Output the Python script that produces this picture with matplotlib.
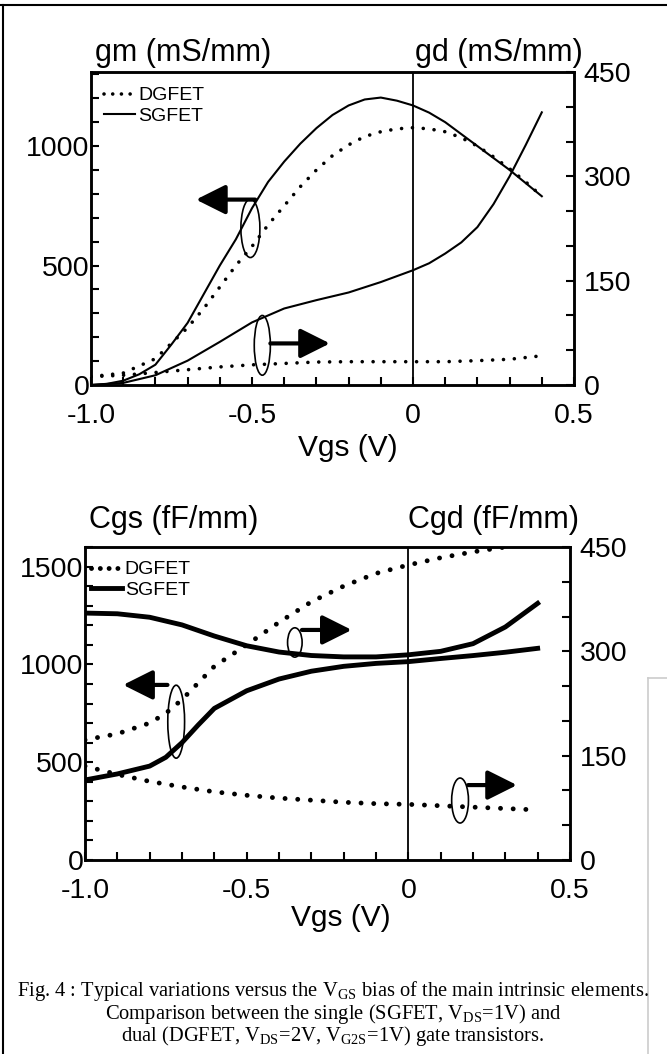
import matplotlib
matplotlib.use('Agg')
import matplotlib.pyplot as plt
from matplotlib.patches import Ellipse
from matplotlib.lines import Line2D
from matplotlib.ticker import MultipleLocator, FixedLocator

plt.rcParams['font.family'] = ['Liberation Sans', 'DejaVu Sans']
plt.rcParams['axes.unicode_minus'] = False
plt.rcParams['mathtext.fontset'] = 'custom'
plt.rcParams['mathtext.rm'] = 'Liberation Serif'

# ---- top chart: gm (left) and gd (right) ----
vgs_gm_dg = [-1.0, -0.9, -0.8, -0.75, -0.7, -0.65, -0.6, -0.55, -0.5, -0.45, -0.4, -0.35, -0.3, -0.25,
             -0.2, -0.15, -0.1, -0.05, 0.0, 0.05, 0.1, 0.15, 0.2, 0.25, 0.3, 0.35, 0.4]
gm_dg = [35, 50, 110, 175, 240, 320, 410, 500, 580, 670, 750, 830, 900, 960,
         1005, 1040, 1060, 1072, 1077, 1072, 1060, 1035, 1000, 955, 905, 850, 790]

vgs_gm_sg = [-1.0, -0.95, -0.9, -0.85, -0.8, -0.75, -0.7, -0.65, -0.6, -0.55, -0.5, -0.45, -0.4, -0.35,
             -0.3, -0.25, -0.2, -0.15, -0.1, -0.05, 0.0, 0.05, 0.1, 0.15, 0.2, 0.25, 0.3, 0.35, 0.4]
gm_sg = [0, 5, 18, 45, 85, 170, 260, 380, 500, 610, 740, 850, 935, 1010,
         1075, 1130, 1170, 1195, 1203, 1190, 1170, 1140, 1100, 1050, 1000, 950, 900, 845, 790]

vgs_gd_sg = [-1.0, -0.9, -0.8, -0.7, -0.6, -0.5, -0.4, -0.3, -0.2, -0.1, 0.0, 0.05, 0.1, 0.15,
             0.2, 0.25, 0.3, 0.35, 0.4]
gd_sg = [0, 3, 14, 35, 62, 90, 110, 122, 133, 148, 165, 175, 189, 205, 227, 260, 300, 345, 392]

vgs_gd_dg = [-1.0, -0.9, -0.8, -0.7, -0.6, -0.5, -0.4, -0.3, -0.2, -0.1, 0.0, 0.1, 0.2, 0.3, 0.4]
gd_dg = [12, 14, 18, 22, 26, 29, 31, 33, 33.5, 33.5, 33.5, 33.5, 35, 37, 42]

# ---- bottom chart: Cgs (left) and Cgd (right) ----
vgs_c = [-1.0, -0.9, -0.8, -0.75, -0.7, -0.65, -0.6, -0.5, -0.4, -0.3, -0.2, -0.1, 0.0, 0.1, 0.2, 0.3, 0.4]
cgs_dg = [614, 645, 700, 750, 820, 905, 990, 1100, 1215, 1320, 1400, 1465, 1508, 1545, 1575, 1600]
cgs_sg = [409, 440, 480, 525, 600, 690, 775, 865, 925, 965, 990, 1005, 1014, 1030, 1045, 1062, 1082]

vgs_cgd = [-1.0, -0.9, -0.8, -0.7, -0.6, -0.5, -0.4, -0.3, -0.2, -0.1, 0.0, 0.1, 0.2, 0.3, 0.4]
cgd_sg = [355, 354, 349, 338, 322, 308, 299, 294, 292, 292, 295, 300, 311, 335, 369]
cgd_dg = [135, 123, 113, 105, 98, 93, 89, 86, 83, 81, 80, 78, 76, 74, 72]

xticks_lab = ['-1.0', '-0.5', '0', '0.5']

W, H = 667, 1054
fig = plt.figure(figsize=(W / 100, H / 100), dpi=100)


def box(l, r, t, b):
    return [l / W, 1 - b / H, (r - l) / W, (b - t) / H]


def dotted(ax, x, y, lw, gap):
    ax.plot(x, y, color='k', lw=lw, dashes=(0.01, gap), dash_capstyle='round')


def setup(ax, ax2, ymax, ylabels):
    ax.set_xlim(-1.0, 0.5)
    ax.set_ylim(0, ymax)
    ax2.set_ylim(0, 450)
    ax.axvline(0, color='k', lw=1.3)
    ax.xaxis.set_major_locator(FixedLocator([-1.0, -0.5, 0, 0.5]))
    ax.set_xticklabels(xticks_lab)
    ax.xaxis.set_minor_locator(MultipleLocator(0.1))
    ax.yaxis.set_major_locator(FixedLocator(ylabels))
    ax.set_yticklabels([str(v) for v in ylabels])
    ax.yaxis.set_minor_locator(MultipleLocator(100))
    ax2.yaxis.set_major_locator(FixedLocator([0, 150, 300, 450]))
    ax2.yaxis.set_minor_locator(MultipleLocator(50))
    for a in (ax, ax2):
        for s in a.spines.values():
            s.set_linewidth(1.8)
        a.tick_params(which='both', direction='in', length=6, width=1.5, labelsize=20.5)
    ax.tick_params(axis='x', pad=13)
    ax.tick_params(axis='y', pad=1)
    ax2.tick_params(axis='y', pad=7)
    ax.tick_params(top=False, which='both')


def arrow(ax, tail, tip):
    ax.annotate('', xy=tip, xytext=tail,
                arrowprops=dict(arrowstyle='-|>,head_length=0.9,head_width=0.45', lw=3, color='k',
                                shrinkA=0, shrinkB=0, mutation_scale=20))


# top chart
ax = fig.add_axes(box(91, 574, 72, 385))
ax2 = ax.twinx()
setup(ax, ax2, 1310, [0, 500, 1000])
dotted(ax, vgs_gm_dg, gm_dg, 2.6, 3.0)
ax.plot(vgs_gm_sg, gm_sg, color='k', lw=1.5)
dotted(ax2, vgs_gd_dg, gd_dg, 2.6, 3.0)
ax2.plot(vgs_gd_sg, gd_sg, color='k', lw=1.5)
ax.add_patch(Ellipse((-0.505, 656), 0.059, 245, fill=False, lw=1.2, ec='k'))
arrow(ax, (-0.49, 776), (-0.674, 776))
ax.add_patch(Ellipse((-0.468, 166), 0.05, 250, fill=False, lw=1.2, ec='k'))
arrow(ax, (-0.443, 174), (-0.258, 174))
h = [Line2D([], [], color='k', lw=2.6, dashes=(0.01, 2.4), dash_capstyle='round'),
     Line2D([], [], color='k', lw=1.5)]
ax.legend(h, ['DGFET', 'SGFET'], loc='upper left', bbox_to_anchor=(0.027, 0.953), frameon=False,
          fontsize=14, borderaxespad=0, borderpad=0, labelspacing=0.15, handletextpad=0.15,
          handlelength=1.6)
ax.set_xlabel('Vgs (V)', fontsize=21.5, va='center')
ax.xaxis.set_label_coords(0.532, -0.201)
fig.text(95 / W, 1 - 61 / H, 'gm (mS/mm)', fontsize=22, va='baseline')
fig.text(415 / W, 1 - 61 / H, 'gd (mS/mm)', fontsize=22, va='baseline')

# bottom chart
bx = fig.add_axes(box(85, 570, 547, 860))
bx2 = bx.twinx()
setup(bx, bx2, 1600, [0, 500, 1000, 1500])
dotted(bx, vgs_c[:len(cgs_dg)], cgs_dg, 3.5, 2.6)
bx.plot(vgs_c, cgs_sg, color='k', lw=3.5)
dotted(bx2, vgs_cgd, cgd_dg, 3.5, 2.6)
bx2.plot(vgs_cgd, cgd_sg, color='k', lw=3.5)
bx.add_patch(Ellipse((-0.718, 707), 0.052, 373, fill=False, lw=1.2, ec='k'))
arrow(bx, (-0.745, 895), (-0.882, 895))
bx.add_patch(Ellipse((-0.351, 1112), 0.045, 150, fill=False, lw=1.2, ec='k'))
arrow(bx, (-0.329, 1176), (-0.175, 1176))
bx.add_patch(Ellipse((0.16, 304), 0.052, 230, fill=False, lw=1.2, ec='k'))
arrow(bx, (0.185, 383), (0.336, 383))
h = [Line2D([], [], color='k', lw=3.5, dashes=(0.01, 1.8), dash_capstyle='round'),
     Line2D([], [], color='k', lw=3.5)]
bx.legend(h, ['DGFET', 'SGFET'], loc='upper left', bbox_to_anchor=(0.012, 0.956), frameon=False,
          fontsize=14, borderaxespad=0, borderpad=0, labelspacing=0.15, handletextpad=0.15,
          handlelength=1.6)
bx.set_xlabel('Vgs (V)', fontsize=21.5, va='center')
bx.xaxis.set_label_coords(0.528, -0.185)
fig.text(89 / W, 1 - 528 / H, 'Cgs (fF/mm)', fontsize=22, va='baseline')
fig.text(408 / W, 1 - 528 / H, 'Cgd (fF/mm)', fontsize=22, va='baseline')

# caption
cap = [r'Fig. 4 : Typical variations versus the V$_{\mathrm{GS}}$ bias of the main intrinsic elements.',
       r'Comparison between the single (SGFET, V$_{\mathrm{DS}}$=1V) and',
       r'dual (DGFET, V$_{\mathrm{DS}}$=2V, V$_{\mathrm{G2S}}$=1V) gate transistors.']
for i, line in enumerate(cap):
    fig.text(333 / W, 1 - (991 + 22.5 * i) / H, line, fontsize=14.8, family='Liberation Serif',
             ha='center', va='center')

# page frame from the scan
fig.add_artist(Line2D([0, 1], [1 - 5 / H] * 2, color='k', lw=1.5, transform=fig.transFigure))
fig.add_artist(Line2D([3 / W] * 2, [0, 1 - 5 / H], color='k', lw=1.5, transform=fig.transFigure))
fig.add_artist(Line2D([648 / W] * 2, [0, 1 - 678 / H], color='0.8', lw=1.2, transform=fig.transFigure))
fig.add_artist(Line2D([648 / W, 1], [1 - 678 / H] * 2, color='0.8', lw=1.2, transform=fig.transFigure))

fig.savefig('out.png', dpi=100)
